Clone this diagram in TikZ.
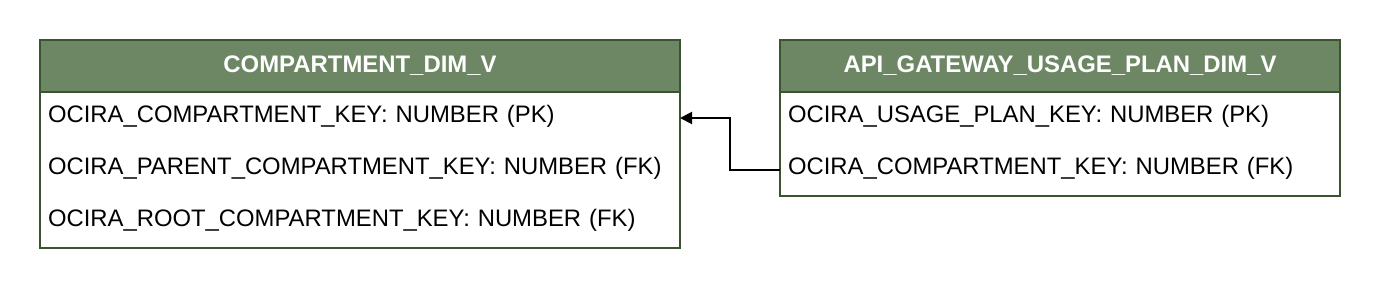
\documentclass[tikz,border=0pt]{standalone}
\usepackage{fontspec}
\setmainfont{Liberation Sans}
\usetikzlibrary{arrows.meta,positioning}

\definecolor{hdrfill}{HTML}{6D8764}
\definecolor{hdrline}{HTML}{3A5431}

\tikzset{
	tblhead/.style={draw=hdrline, fill=hdrfill, line width=2pt, text=white,
		font=\bfseries\fontsize{23.9}{28}\selectfont,
		minimum height=52pt, inner sep=0pt, outer sep=0pt},
	tblrow/.style={minimum height=52pt, inner xsep=8pt, inner ysep=0pt,
		text height=17pt, text depth=8.4pt,
		outer sep=0pt, align=left, font=\fontsize{23.85}{28}\selectfont},
	tblbox/.style={draw=hdrline, line width=2pt},
	fklink/.style={line width=2pt, -{Triangle[length=12pt,width=12pt]}}
}

\begin{document}
\begin{tikzpicture}[x=1pt, y=-1pt]
	
	\useasboundingbox (0,0) rectangle (1380,288);
	
	% COMPARTMENT_DIM_V
	\node[tblhead, minimum width=640pt] (cdim) at (360,66) {COMPARTMENT\_DIM\_V};
	\node[tblrow, text width=624pt, below=0pt of cdim] (cdim1) {OCIRA\_COMPARTMENT\_KEY: NUMBER (PK)};
	\node[tblrow, text width=624pt, below=0pt of cdim1] (cdim2) {OCIRA\_PARENT\_COMPARTMENT\_KEY: NUMBER (FK)};
	\node[tblrow, text width=624pt, below=0pt of cdim2] (cdim3) {OCIRA\_ROOT\_COMPARTMENT\_KEY: NUMBER (FK)};
	\draw[tblbox] (cdim.south west) rectangle (cdim3.south east);
	
	% API_GATEWAY_USAGE_PLAN_DIM_V
	\node[tblhead, minimum width=560pt] (agup) at (1060,66) {API\_GATEWAY\_USAGE\_PLAN\_DIM\_V};
	\node[tblrow, text width=544pt, below=0pt of agup] (agup1) {OCIRA\_USAGE\_PLAN\_KEY: NUMBER (PK)};
	\node[tblrow, text width=544pt, below=0pt of agup1] (agup2) {OCIRA\_COMPARTMENT\_KEY: NUMBER (FK)};
	\draw[tblbox] (agup.south west) rectangle (agup2.south east);
	
	\draw[fklink] (agup2.west) -- ++(-50,0) |- (cdim1.east);
	
\end{tikzpicture}
\end{document}
